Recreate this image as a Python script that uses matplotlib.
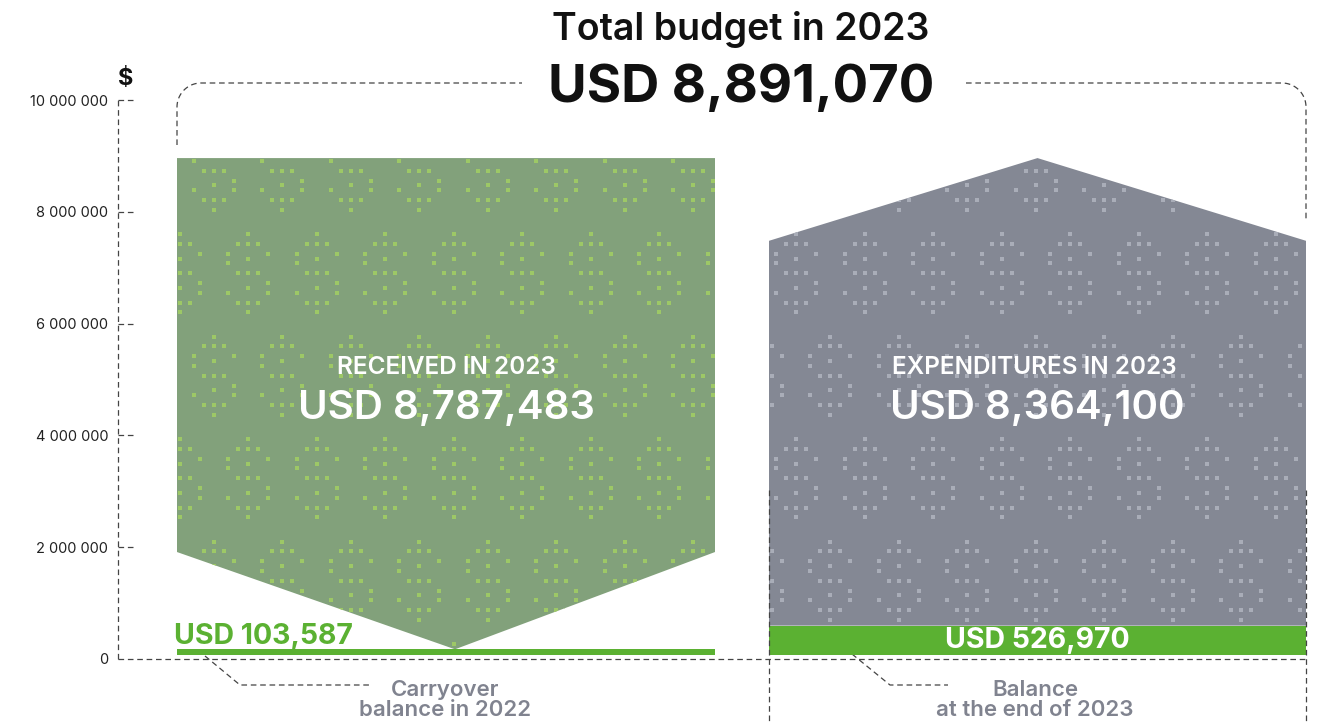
import numpy as np
import matplotlib.pyplot as plt
from matplotlib.patches import Polygon, Rectangle

# --- data ---
total_budget = 8891070
received = 8787483
expenditures = 8364100
carryover = 103587
balance_end = 526970
tick_values = [0, 2000000, 4000000, 6000000, 8000000, 10000000]
tick_labels = ["0", "2 000 000", "4 000 000", "6 000 000", "8 000 000", "10 000 000"]

# --- layout (pixels) ---
W, H = 1323, 722
Y0_PX = 659
PX_PER_USD = (659 - 100) / 10e6
BASE = 70000          # small visual gap between bars and the dashed baseline
NOTCH = 1740000       # depth of the green notch
CHEVRON = 1480000     # depth of the gray roof

green_x = (177, 715)
gray_x = (769, 1306)

GREEN_FILL = "#82a17b"
GREEN_DOT = "#9dc866"
GRAY_FILL = "#848894"
GRAY_DOT = "#a9adb8"
BAR_GREEN = "#5bb132"
LABEL_GRAY = "#80838f"
DASH = "#444444"

plt.rcParams["font.family"] = ["Inter", "DejaVu Sans"]


def v(py):
    # pixel row -> dollar value on the axis
    return (Y0_PX - py) / PX_PER_USD


fig = plt.figure(figsize=(W / 100, H / 100), dpi=100)
ax = fig.add_axes([0, 0, 1, 1])
ax.set_xlim(0, W)
ax.set_ylim(v(H), v(0))
for s in ["top", "right", "bottom"]:
    ax.spines[s].set_visible(False)
ax.spines["left"].set_position(("data", 118))
ax.spines["left"].set_visible(False)
ax.set_xticks([])
ax.set_yticks(tick_values)
ax.set_yticklabels(tick_labels)
ax.tick_params(axis="y", length=0, pad=7, labelsize=10.5, labelcolor="#222222")

dash_kw = dict(color=DASH, lw=0.9, linestyle=(0, (4.5, 3)))

# y axis and baseline
ax.plot([118, 118], [0, tick_values[-1]], **dash_kw)
for t in tick_values[1:]:
    ax.plot([118, 134], [t, t], **dash_kw)
ax.plot([118, gray_x[1]], [0, 0], **dash_kw)

# --- shapes ---
g_top = BASE + total_budget
g_pt = BASE + carryover
green_poly = Polygon([(green_x[0], g_pt + NOTCH), (green_x[0], g_top), (green_x[1], g_top),
                      (green_x[1], g_pt + NOTCH), (455, g_pt)],
                     closed=True, facecolor=GREEN_FILL, edgecolor="none", zorder=2)
ax.add_patch(green_poly)

gray_mid = (gray_x[0] + gray_x[1]) / 2
gray_poly = Polygon([(gray_x[0], BASE + balance_end), (gray_x[0], g_top - CHEVRON),
                     (gray_mid, g_top), (gray_x[1], g_top - CHEVRON),
                     (gray_x[1], BASE + balance_end)],
                    closed=True, facecolor=GRAY_FILL, edgecolor="none", zorder=2)
ax.add_patch(gray_poly)

ax.add_patch(Rectangle((green_x[0], BASE), green_x[1] - green_x[0], carryover,
                       facecolor=BAR_GREEN, edgecolor="none", zorder=3))
ax.add_patch(Rectangle((gray_x[0], BASE), gray_x[1] - gray_x[0], balance_end,
                       facecolor=BAR_GREEN, edgecolor="none", zorder=3))

# --- dollar-sign dot pattern ---
motif = [(0, 0), (-1, 1), (0, 1), (1, 1), (-2, 2), (2, 2), (0, 2.5), (-2, 3),
         (-1, 4), (0, 4), (1, 4), (2, 5), (0, 5.5), (-2, 6), (2, 6),
         (-1, 7), (0, 7), (1, 7), (0, 8)]
mx = np.array([m[0] for m in motif]) * 10.0
my = np.array([m[1] for m in motif]) * 9.8
px, py = [], []
for row in range(-2, 8):
    top = 234 + row * 102.5
    shift = 34.25 if row % 2 else 0.0
    for col in range(-4, 20):
        cx = 248 + shift + col * 68.5
        px.extend(cx + mx)
        py.extend(top + my)
px = np.array(px)
py = np.array(py)
for poly, dot in [(green_poly, GREEN_DOT), (gray_poly, GRAY_DOT)]:
    sc = ax.scatter(px, v(py), marker="s", s=10, color=dot, linewidths=0, zorder=2.5)
    sc.set_clip_path(poly)

# vertical dashed guides on the right block
ax.plot([gray_x[0], gray_x[0]], [v(490), v(H)], zorder=4, **dash_kw)
ax.plot([gray_x[1], gray_x[1]], [v(490), v(H)], zorder=4, **dash_kw)

# top bracket with rounded corners
r = 24
a = np.linspace(np.pi, np.pi / 2, 20)
lx = np.concatenate([[177], 177 + r + r * np.cos(a), [522]])
ly = np.concatenate([[145], 83 + r - r * np.sin(a), [83]])
ax.plot(lx, v(ly), **dash_kw)
a = np.linspace(np.pi / 2, 0, 20)
rx = np.concatenate([[966], 1306 - r + r * np.cos(a), [1306]])
ry = np.concatenate([[83], 83 + r - r * np.sin(a), [222]])
ax.plot(rx, v(ry), **dash_kw)

# leader lines
ax.plot([205, 240, 370], [v(656), v(685), v(685)], **dash_kw)
ax.plot([852, 890, 948], [v(654), v(685), v(685)], **dash_kw)

# --- texts ---
ax.text(741, v(29), "Total budget in 2023", ha="center", va="center",
        fontsize=27, fontweight="semibold", color="#111111")
ax.text(741, v(88), f"USD {total_budget:,}", ha="center", va="center",
        fontsize=38, fontweight="bold", color="#111111")
ax.text(126, v(79), "$", ha="center", va="center", fontsize=17, fontweight="bold", color="#111111")

ax.text(446, v(367), "RECEIVED IN 2023", ha="center", va="center",
        fontsize=17.5, fontweight="semibold", color="white", zorder=5)
ax.text(446, v(409), f"USD {received:,}", ha="center", va="center",
        fontsize=29, fontweight="semibold", color="white", zorder=5)
ax.text(1034, v(367), "EXPENDITURES IN 2023", ha="center", va="center",
        fontsize=17.5, fontweight="semibold", color="white", zorder=5)
ax.text(1037, v(409), f"USD {expenditures:,}", ha="center", va="center",
        fontsize=29, fontweight="semibold", color="white", zorder=5)

ax.text(174, v(637), f"USD {carryover:,}", ha="left", va="center",
        fontsize=20.5, fontweight="bold", color=BAR_GREEN, zorder=5)
ax.text(1037, v(641), f"USD {balance_end:,}", ha="center", va="center",
        fontsize=20.5, fontweight="bold", color="white", zorder=5)

ax.text(445, v(700), "Carryover\nbalance in 2022", ha="center", va="center",
        fontsize=16, fontweight="semibold", color=LABEL_GRAY, linespacing=1.0)
ax.text(1035, v(700), "Balance\nat the end of 2023", ha="center", va="center",
        fontsize=16, fontweight="semibold", color=LABEL_GRAY, linespacing=1.0)

fig.savefig("out.png", dpi=100)
